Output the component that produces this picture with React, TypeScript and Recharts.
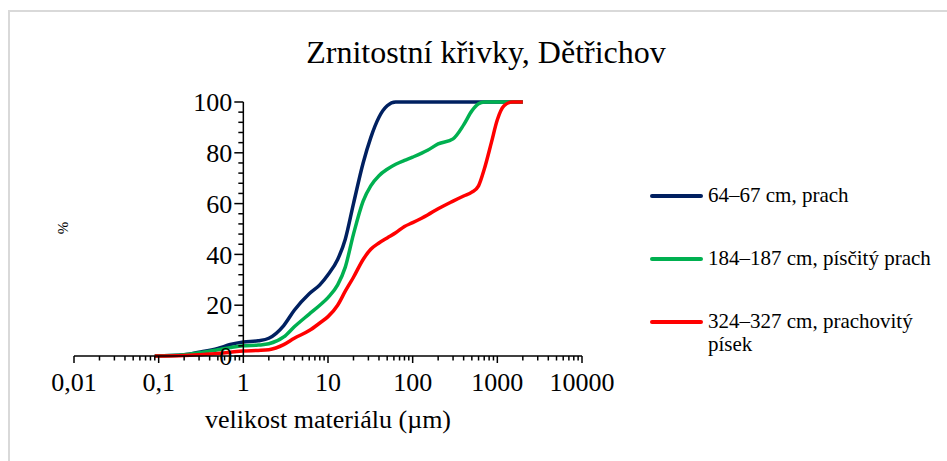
import { Line, LineChart, ReferenceDot, ReferenceLine, XAxis, YAxis } from "recharts";

const FONT = "'Liberation Serif', 'Times New Roman', Times, serif";

// velikost zrna (µm)
const sizes = [
  0.09, 0.2, 0.3, 0.5, 0.7, 1, 1.5, 2, 3, 4, 6, 8, 10, 13, 16, 20, 26, 32, 40, 50, 63, 80, 100, 150, 200, 300,
  400, 500, 600, 700, 850, 1000, 1200, 1500, 2000,
];

// kumulativní podíl (%)
const prach = [
  0, 0.5, 1.5, 3, 4.5, 5.5, 6, 7, 12, 18, 24.5, 28, 32, 38, 46, 60, 76, 86, 94, 98.5, 100, 100, 100, 100, 100,
  100, 100, 100, 100, 100, 100, 100, 100, 100, 100,
];
const piscityPrach = [
  0, 0.5, 1.3, 2.5, 3.3, 4, 4.3, 4.8, 7.5, 11.5, 16.5, 20, 23, 28, 35, 48, 61, 67, 71, 73.5, 75.5, 77, 78.3, 81,
  83.5, 85.5, 91, 96.5, 99.3, 100, 100, 100, 100, 100, 100,
];
const prachovityPisek = [
  0, 0.2, 0.5, 1, 1.5, 2, 2.2, 2.5, 4.5, 7, 10, 13, 15.5, 20, 25.5, 31, 38, 42, 44.5, 46.5, 48.5, 51, 52.5, 55.5,
  58, 61, 63, 64.5, 67, 73.5, 84, 93, 98.5, 100, 100,
];

const seriesKeys = ["prach", "piscity", "prachovity"];
const seriesNames = ["64–67 cm, prach", "184–187 cm, písčitý prach", "324–327 cm, prachovitý písek"];
const seriesColors = ["#002060", "#00B050", "#FF0000"];

const xMajor = [0.01, 0.1, 1, 10, 100, 1000, 10000];
const xTicks = xMajor.flatMap((d, i) =>
  i === xMajor.length - 1 ? [d] : [1, 2, 3, 4, 5, 6, 7, 8, 9].map((m) => +(m * d).toPrecision(3))
);
const yMajor = [0, 20, 40, 60, 80, 100];
const yMinor = [4, 8, 12, 16, 24, 28, 32, 36, 44, 48, 52, 56, 64, 68, 72, 76, 84, 88, 92, 96];

const data = sizes.map((size, i) => ({
  size,
  prach: prach[i],
  piscity: piscityPrach[i],
  prachovity: prachovityPisek[i],
}));

const isDecade = (v: number) => Math.abs(Math.log10(v) - Math.round(Math.log10(v))) < 1e-6;

function XTick(props: any) {
  const { x, y, payload } = props;
  const major = isDecade(payload.value);
  return (
    <g>
      <line x1={x} x2={x} y1={y} y2={y + (major ? 7 : 4.5)} stroke="#000" strokeWidth={1.5} />
      {major && (
        <text x={x} y={y + 35} textAnchor="middle" fontSize={26} fontFamily={FONT} fill="#000">
          {String(payload.value).replace(".", ",")}
        </text>
      )}
    </g>
  );
}

export default function App() {
  return (
    <div style={{ position: "absolute", left: 0, top: 0, width: 947, height: 461, background: "#fff", overflow: "hidden" }}>
      <div
        style={{ position: "absolute", left: 8, top: 10, width: 1000, height: 520, border: "2px solid #d9d9d9" }}
      />
      <div
        style={{
          position: "absolute",
          left: 0,
          width: 972,
          top: 36,
          textAlign: "center",
          fontFamily: FONT,
          fontSize: 32,
          lineHeight: "32px",
          color: "#000",
        }}
      >
        Zrnitostní křivky, Dětřichov
      </div>
      <div
        style={{
          position: "absolute",
          left: 55,
          top: 219,
          width: 16,
          height: 18,
          fontFamily: FONT,
          fontSize: 15,
          lineHeight: "18px",
          textAlign: "center",
          transform: "rotate(-90deg)",
        }}
      >
        %
      </div>
      <div style={{ position: "absolute", left: 0, top: 0 }}>
        <LineChart width={947} height={461} data={data} margin={{ top: 102, right: 365, left: 74, bottom: 25 }}>
          <XAxis
            dataKey="size"
            type="number"
            scale="log"
            domain={[0.01, 10000]}
            ticks={xTicks}
            interval={0}
            tick={<XTick />}
            tickLine={false}
            tickSize={0}
            tickMargin={0}
            axisLine={{ stroke: "#000", strokeWidth: 1.5 }}
            height={80}
            allowDataOverflow
            label={{
              value: "velikost materiálu (µm)",
              position: "insideBottom",
              offset: 8,
              fontSize: 26,
              fontFamily: FONT,
              fill: "#000",
            }}
          />
          <YAxis hide type="number" domain={[0, 100]} />
          {seriesKeys.map((k, i) => (
            <Line
              key={k}
              dataKey={k}
              name={seriesNames[i]}
              stroke={seriesColors[i]}
              strokeWidth={3.5}
              type="monotone"
              dot={false}
              activeDot={false}
              isAnimationActive={false}
            />
          ))}
          <ReferenceLine x={1} stroke="#000" strokeWidth={1.5} />
          {yMinor.map((v) => (
            <ReferenceDot
              key={"m" + v}
              x={1}
              y={v}
              shape={(p: any) => <line x1={p.cx - 5} x2={p.cx} y1={p.cy} y2={p.cy} stroke="#000" strokeWidth={1.5} />}
            />
          ))}
          {yMajor.map((v) => (
            <ReferenceDot
              key={"M" + v}
              x={1}
              y={v}
              shape={(p: any) => (
                <g>
                  <line x1={p.cx - 9} x2={p.cx} y1={p.cy} y2={p.cy} stroke="#000" strokeWidth={1.5} />
                  <text
                    x={p.cx - 11}
                    y={p.cy}
                    dy="0.35em"
                    textAnchor="end"
                    fontSize={26}
                    fontFamily={FONT}
                    fill="#000"
                  >
                    {v}
                  </text>
                </g>
              )}
            />
          ))}
        </LineChart>
      </div>
      <div style={{ position: "absolute", left: 650, top: 184, fontFamily: FONT, fontSize: 21, color: "#000" }}>
        {seriesNames.map((name, i) => (
          <div
            key={name}
            style={{ position: "absolute", left: 0, top: i * 63, display: "flex", alignItems: "flex-start", width: 300 }}
          >
            <div style={{ width: 53, height: 3.5, background: seriesColors[i], marginTop: 10, borderRadius: 2 }} />
            <span style={{ marginLeft: 5, lineHeight: "23px", width: 232 }}>{name}</span>
          </div>
        ))}
      </div>
    </div>
  );
}
